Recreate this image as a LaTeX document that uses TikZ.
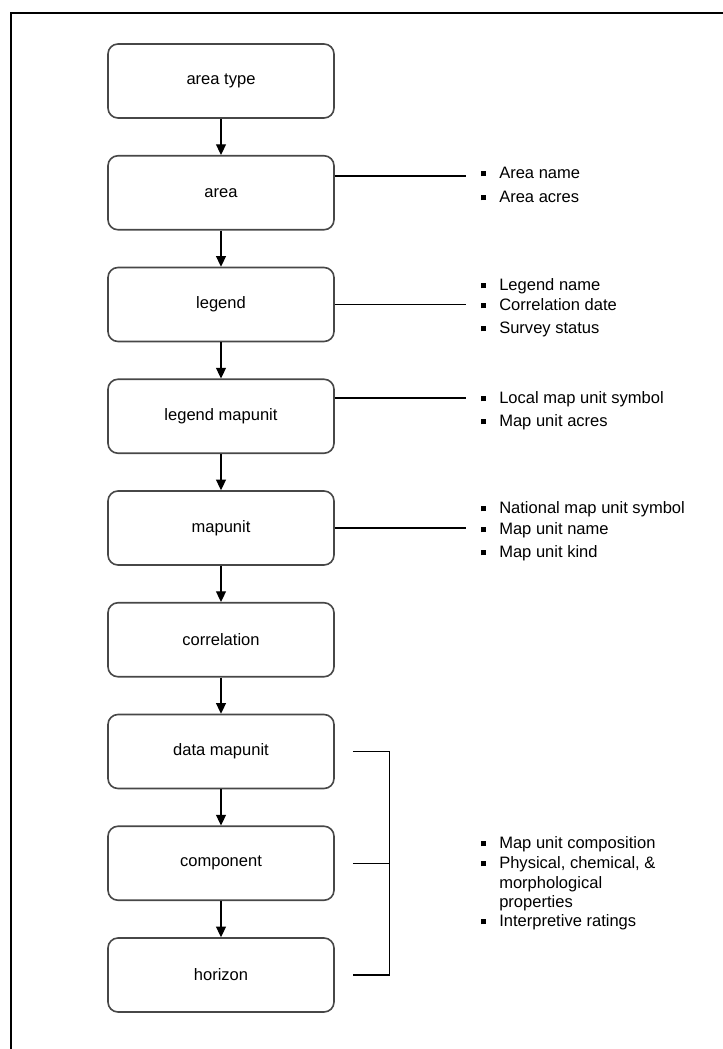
\documentclass[tikz,border=0pt]{standalone}
\usepackage{fontspec}
\setmainfont{Liberation Sans}
\usetikzlibrary{arrows.meta}
\newcommand{\bul}{\makebox[13.5pt][l]{\rule[1.3pt]{3.6pt}{3.6pt}}}
\newcommand{\nobul}{\hspace*{13.5pt}}
\begin{document}
\begin{tikzpicture}[x=0.75pt,y=-0.75pt,
  box/.style={draw=black!72,line width=1.2pt,rounded corners=7.5pt,
    minimum width=169.5pt,minimum height=55.5pt,inner sep=0pt,
    font=\fontsize{12.4}{15}\selectfont},
  arr/.style={-{Triangle[length=8pt,width=7.5pt]},line width=1pt},
  link/.style={line width=1pt},
  item/.style={anchor=base west,inner sep=0pt,font=\fontsize{12.4}{15}\selectfont},
  frame/.style={line width=1.5pt}]
\useasboundingbox (0,0) rectangle (723,1049);
\draw[frame] (11,1049) -- (11,12.7) -- (723,12.7);

\node[box] (n0) at (221,81) {area type};
\node[box] (n1) at (221,192.75) {area};
\node[box] (n2) at (221,304.5) {legend};
\node[box] (n3) at (221,416.25) {legend mapunit};
\node[box] (n4) at (221,528) {mapunit};
\node[box] (n5) at (221,639.75) {correlation};
\node[box] (n6) at (221,751.5) {data mapunit};
\node[box] (n7) at (221,863.25) {component};
\node[box] (n8) at (221,975) {horizon};

\draw[arr] (n0) -- (n1);
\draw[arr] (n1) -- (n2);
\draw[arr] (n2) -- (n3);
\draw[arr] (n3) -- (n4);
\draw[arr] (n4) -- (n5);
\draw[arr] (n5) -- (n6);
\draw[arr] (n6) -- (n7);
\draw[arr] (n7) -- (n8);

\coordinate (e1) at (466,176);
\coordinate (e2) at (466,304.5);
\coordinate (e3) at (466,398);
\coordinate (e4) at (466,528);
\draw[link] (n1.east |- e1) -- (e1);
\draw[link] (n2.east) -- (e2);
\draw[link] (n3.east |- e3) -- (e3);
\draw[link] (n4.east) -- (e4);

\draw[link] ([xshift=13.5pt]n6.east) -- ++(37,0) |- ([xshift=13.5pt]n8.east);
\draw[link] ([xshift=13.5pt]n7.east) -- ++(37,0);

\node[item] (a1) at (481,178) {\bul Area name};
\node[item] (a2) at (481,202) {\bul Area acres};
\node[item] (l1) at (481,290) {\bul Legend name};
\node[item] (l2) at (481,310) {\bul Correlation date};
\node[item] (l3) at (481,333) {\bul Survey status};
\node[item] (m1) at (481,403) {\bul Local map unit symbol};
\node[item] (m2) at (481,426) {\bul Map unit acres};
\node[item] (u1) at (481,513) {\bul National map unit symbol};
\node[item] (u2) at (481,534) {\bul Map unit name};
\node[item] (u3) at (481,557) {\bul Map unit kind};
\node[item] (c1) at (481,848) {\bul Map unit composition};
\node[item] (c2) at (481,868) {\bul Physical, chemical, \&};
\node[item] (c3) at (481,888) {\nobul morphological};
\node[item] (c4) at (481,907) {\nobul properties};
\node[item] (c5) at (481,926) {\bul Interpretive ratings};
\end{tikzpicture}
\end{document}
